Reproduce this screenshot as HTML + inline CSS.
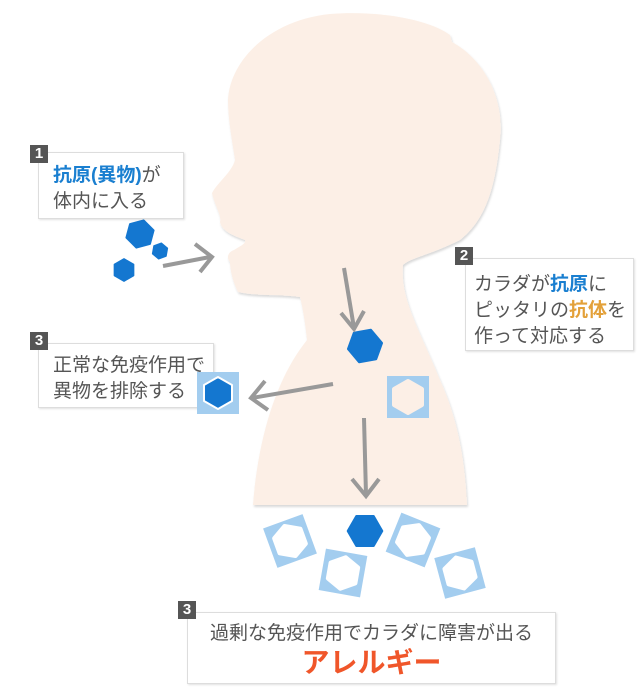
<!DOCTYPE html>
<html><head><meta charset="utf-8"><style>
html,body{margin:0;padding:0;background:#fff;}
body{width:640px;height:700px;position:relative;overflow:hidden;font-family:"Liberation Sans","Noto Sans CJK JP",sans-serif;}
.box{position:absolute;background:#fff;border:1px solid #ddd;box-shadow:1px 1px 2px rgba(0,0,0,0.12);color:#555;font-size:19px;line-height:26px;box-sizing:border-box;}
.bd{position:absolute;width:18px;height:18px;background:#555;color:#fff;font-weight:bold;font-size:15px;line-height:18px;text-align:center;}
.b{color:#1a7fd0;font-weight:bold;}
.o{color:#e3a13a;font-weight:bold;}
</style></head><body>
<svg width="640" height="700" style="position:absolute;left:0;top:0">
<defs>
<filter id="sh"><feDropShadow dx="1" dy="2" stdDeviation="1" flood-color="#000" flood-opacity="0.15"/></filter>
<g id="ab"><rect x="-21" y="-21" width="42" height="42" fill="#a3cdef"/><polygon points="0,-16 14,-8 14,8 0,16 -14,8 -14,-8" fill="#fff" stroke="#fff" stroke-width="4" stroke-linejoin="round"/></g>
<polygon id="hx" points="0,-1 0.866,-0.5 0.866,0.5 0,1 -0.866,0.5 -0.866,-0.5"/>
</defs>
<path filter="url(#sh)" fill="#fcefe6" d="M330,14 C380,10 430,20 450,35 L452,42 C485,60 505,100 500,140 C495,190 485,220 460,240 C430,255 410,258 403,265 C400,300 420,330 440,380 C458,420 465,460 467,505 L253,505 C258,440 275,380 307,340 C305,320 302,305 300,297 C280,294 255,296 238,292 C232,280 230,268 230,262 C226,258 228,252 234,250 C240,246 246,244 245,240 C235,236 222,232 220,222 C222,216 214,204 212,193 C218,182 232,172 235,160 C232,140 228,120 228,100 C230,60 270,20 330,14 Z"/>
<g fill="#1477d0" stroke="#1477d0" stroke-linejoin="round" stroke-width="0.15">
<use href="#hx" transform="translate(140,234) rotate(15) scale(14)"/>
<use href="#hx" transform="translate(160,251) rotate(10) scale(8)"/>
<use href="#hx" transform="translate(124,270) scale(11)"/>
<use href="#hx" transform="translate(365,346) rotate(20) scale(17)"/>
<use href="#hx" transform="translate(365,531) rotate(30) scale(17)"/>
</g>
<g transform="translate(408,397)"><rect x="-21" y="-21" width="42" height="42" fill="#a3cdef"/><polygon points="0,-16 14,-8 14,8 0,16 -14,8 -14,-8" fill="#fcefe6" stroke="#fcefe6" stroke-width="4" stroke-linejoin="round"/></g>
<use href="#ab" transform="translate(290,541) rotate(-20)"/>
<use href="#ab" transform="translate(343,573) rotate(10)"/>
<use href="#ab" transform="translate(413,540) rotate(22)"/>
<use href="#ab" transform="translate(460,573) rotate(-15)"/>
<g stroke="#999" stroke-width="4" fill="none" stroke-linecap="butt">
<line x1="163" y1="266" x2="210" y2="257"/><polyline points="195,244 212,257 200,272"/>
<line x1="344" y1="268" x2="354" y2="328"/><polyline points="341,313 354,329 364,311"/>
<line x1="333" y1="384" x2="252" y2="398"/><polyline points="265,381 251,398 268,410"/>
<line x1="364" y1="418" x2="366" y2="495"/><polyline points="352,479 366,496 379,479"/>
</g>
</svg>
<div class="box" style="left:38px;top:152px;width:146px;height:67px;padding:10px 0 0 14px;"><span class="b">抗原(異物)</span>が<br>体内に入る</div>
<div class="bd" style="left:30px;top:145px">1</div>
<div class="box" style="left:465px;top:258px;width:169px;height:93px;padding:13px 0 0 8px;">カラダが<span class="b">抗原</span>に<br>ピッタリの<span class="o">抗体</span>を<br>作って対応する</div>
<div class="bd" style="left:455px;top:247px">2</div>
<div class="box" style="left:38px;top:343px;width:176px;height:65px;padding:9px 0 0 14px;">正常な免疫作用で<br>異物を排除する</div>
<div class="bd" style="left:30px;top:332px">3</div>
<svg width="44" height="44" style="position:absolute;left:196px;top:371px">
<rect x="1" y="1" width="42" height="42" fill="#a3cdef"/>
<polygon points="22,6 36,14 36,30 22,38 8,30 8,14" fill="#1477d0" stroke="#fff" stroke-width="2" stroke-linejoin="round"/>
</svg>
<div class="box" style="left:187px;top:612px;width:369px;height:72px;text-align:center;">
<div style="margin-top:9px;line-height:24px">過剰な免疫作用でカラダに障害が出る</div>
<div style="color:#f0562a;font-weight:bold;font-size:28px;line-height:34px">アレルギー</div></div>
<div class="bd" style="left:178px;top:601px">3</div>
</body></html>
